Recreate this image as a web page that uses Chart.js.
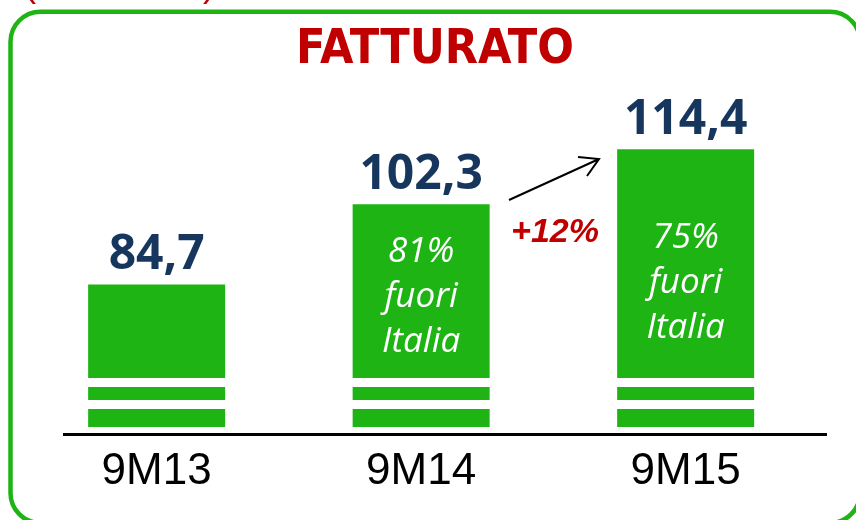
<!DOCTYPE html>
<html><head><meta charset="utf-8">
<script src="https://cdn.jsdelivr.net/npm/chart.js@4.4.0/dist/chart.umd.min.js"></script>
<style>html,body{margin:0;padding:0;background:#fff;}#wrap{width:856px;height:520px;position:relative;}</style>
</head><body><div id="wrap"><canvas id="c" width="856" height="520"></canvas></div>
<script>
// ---- data ----
const categories = ['9M13', '9M14', '9M15'];
const revenue = [84.7, 102.3, 114.4];
const valueLabels = ['84,7', '102,3', '114,4'];
const foreignShare = ['', '81%', '75%'];
const noteWords = ['fuori', 'Italia'];
const growthLabel = '+12%';
const titleText = 'FATTURATO';

// ---- styles ----
const GREEN = '#1EB414';
const RED = '#C00000';
const NAVY = '#17365D';
const noteOffsets = [0, 58, 99]; // first-line baseline below bar top

const deco = {
  id: 'deco',
  beforeDraw(chart) {
    const ctx = chart.ctx;
    ctx.save();
    ctx.fillStyle = '#fff';
    ctx.fillRect(0, 0, chart.width, chart.height);
    // rounded frame (runs off the bottom/right edge)
    ctx.strokeStyle = GREEN;
    ctx.lineWidth = 4.5;
    ctx.beginPath();
    ctx.roundRect(10.5, 11.7, 849.5, 511.3, 30);
    ctx.stroke();
    // cut-off red parentheses from a caption above
    ctx.fillStyle = RED;
    ctx.font = '36px "Liberation Sans"';
    ctx.textBaseline = 'alphabetic';
    ctx.textAlign = 'left';
    ctx.fillText('(', 24, -4);
    ctx.fillText(')', 203, -4);
    // title
    ctx.font = 'bold 48px "DejaVu Sans Condensed", "Liberation Sans Narrow"';
    ctx.textAlign = 'center';
    ctx.fillText(titleText, 435, 63);
    ctx.restore();
  },
  afterDatasetsDraw(chart) {
    const ctx = chart.ctx;
    const meta = chart.getDatasetMeta(0);
    const area = chart.chartArea;
    ctx.save();
    meta.data.forEach((bar, i) => {
      const half = bar.width / 2;
      // axis-break stripes
      ctx.fillStyle = '#fff';
      ctx.fillRect(bar.x - half - 1, area.bottom - 49, bar.width + 2, 9);
      ctx.fillRect(bar.x - half - 1, area.bottom - 27, bar.width + 2, 9);
      // value labels
      ctx.fillStyle = NAVY;
      ctx.font = 'bold 48px "Open Sans"';
      ctx.textAlign = 'center';
      ctx.textBaseline = 'alphabetic';
      ctx.fillText(valueLabels[i], bar.x, bar.y - 15);
      // inner notes
      if (foreignShare[i]) {
        ctx.fillStyle = '#fff';
        ctx.font = 'italic 35px "Open Sans"';
        const lines = [foreignShare[i]].concat(noteWords);
        lines.forEach((t, k) => {
          ctx.fillText(t, bar.x, bar.y + noteOffsets[i] + k * 45);
        });
      }
    });
    // baseline
    ctx.strokeStyle = '#000';
    ctx.lineWidth = 3;
    ctx.beginPath();
    ctx.moveTo(63, area.bottom + 7.5);
    ctx.lineTo(827, area.bottom + 7.5);
    ctx.stroke();
    // growth arrow
    ctx.lineWidth = 2;
    ctx.beginPath();
    ctx.moveTo(509, 200);
    ctx.lineTo(599, 159);
    ctx.moveTo(578, 157);
    ctx.lineTo(599, 159);
    ctx.lineTo(587, 176);
    ctx.stroke();
    ctx.fillStyle = RED;
    ctx.font = 'italic bold 34px "Liberation Sans"';
    ctx.textAlign = 'center';
    ctx.fillText(growthLabel, 555, 242);
    ctx.restore();
  }
};

new Chart(document.getElementById('c'), {
  type: 'bar',
  data: {
    labels: categories,
    datasets: [{
      data: revenue,
      backgroundColor: GREEN,
      borderWidth: 0,
      categoryPercentage: 1,
      barPercentage: 0.518
    }]
  },
  options: {
    responsive: false,
    animation: false,
    devicePixelRatio: 1,
    layout: { padding: { left: 24.4, right: 38.1, top: 75.8, bottom: 4.2 } },
    plugins: { legend: { display: false }, tooltip: { enabled: false }, title: { display: false } },
    scales: {
      x: {
        grid: { display: false, drawTicks: false },
        border: { display: false },
        ticks: { color: '#000', font: { family: '"Liberation Sans"', size: 44 }, padding: 18 }
      },
      y: { display: false, min: 53.4, max: 130.5 }
    }
  },
  plugins: [deco]
});
</script>
</body></html>
